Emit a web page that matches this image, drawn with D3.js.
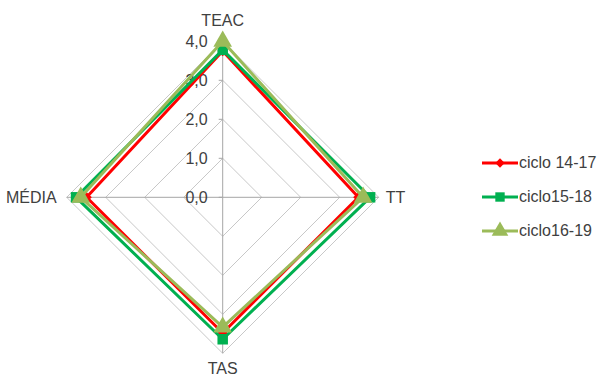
<!DOCTYPE html>
<html>
<head>
<meta charset="utf-8">
<script src="https://cdn.jsdelivr.net/npm/d3@7"></script>
<style>
  html, body { margin: 0; padding: 0; background: #fff; }
  svg { display: block; font-family: "Liberation Sans", Arial, sans-serif; }
</style>
</head>
<body>
<svg id="chart" width="600" height="376"></svg>
<script>
// Radar axes, clockwise from the top
const axes = ["TEAC", "TT", "TAS", "MÉDIA"];
const seriesNames = ["ciclo 14-17", "ciclo15-18", "ciclo16-19"];
const ciclo1417 = [3.75, 3.48, 3.48, 3.49];
const ciclo1518 = [3.78, 3.78, 3.64, 3.76];
const ciclo1619 = [4.0, 3.6, 3.33, 3.64];
const tickValues = [0, 1, 2, 3, 4];
const tickLabels = ["0,0", "1,0", "2,0", "3,0", "4,0"];

const seriesValues = [ciclo1417, ciclo1518, ciclo1619];
const colors = ["#ff0000", "#00b050", "#9bbb59"];
const markers = [d3.symbolDiamond2, d3.symbolSquare, d3.symbolTriangle];
const markerSizes = [70, 110, 150];

const svg = d3.select("#chart");
const cx = 222.7, cy = 197.3, R = 156;

const r = d3.scaleLinear().domain([0, 4]).range([0, R]);
const angle = d3.scalePoint().domain(axes).range([0, 270]);
const pt = (axis, v) => {
  const a = (angle(axis) - 90) * Math.PI / 180;
  return [cx + r(v) * Math.cos(a), cy + r(v) * Math.sin(a)];
};

const g = svg.append("g");

// grid polygons
tickValues.filter(t => t > 0).forEach(t => {
  g.append("path")
    .attr("d", d3.line()(axes.map(a => pt(a, t))) + "Z")
    .attr("fill", "none")
    .attr("stroke", "#c8c8c8")
    .attr("stroke-width", 1);
});

// spokes
axes.forEach(a => {
  const [x, y] = pt(a, 4);
  g.append("line")
    .attr("x1", cx).attr("y1", cy).attr("x2", x).attr("y2", y)
    .attr("stroke", "#a6a6a6").attr("stroke-width", 1);
});

// small tick marks on the vertical axis
tickValues.forEach(t => {
  const [x, y] = pt("TEAC", t);
  g.append("line")
    .attr("x1", x - 4).attr("x2", x).attr("y1", y).attr("y2", y)
    .attr("stroke", "#a6a6a6");
});

// tick labels
tickValues.forEach((t, i) => {
  const [x, y] = pt("TEAC", t);
  g.append("text")
    .attr("x", x - 15).attr("y", y + 1)
    .attr("text-anchor", "end")
    .attr("dominant-baseline", "middle")
    .attr("font-size", 16).attr("fill", "#404040")
    .text(tickLabels[i]);
});

// axis labels
const labelPos = {
  "TEAC": { dx: 0, dy: -20, anchor: "middle" },
  "TT": { dx: 7, dy: 1, anchor: "start" },
  "TAS": { dx: 0, dy: 9, anchor: "middle" },
  "MÉDIA": { dx: -10, dy: 1, anchor: "end" }
};
axes.forEach(a => {
  const [x, y] = pt(a, 4);
  const p = labelPos[a];
  g.append("text")
    .attr("x", x + p.dx).attr("y", y + p.dy)
    .attr("text-anchor", p.anchor)
    .attr("dominant-baseline", a === "TAS" ? "hanging" : "middle")
    .attr("font-size", 16).attr("fill", "#404040")
    .text(a);
});

// series
seriesValues.forEach((vals, i) => {
  const pts = axes.map((a, j) => pt(a, vals[j]));
  g.append("path")
    .attr("d", d3.line()(pts) + "Z")
    .attr("fill", "none")
    .attr("stroke", colors[i])
    .attr("stroke-width", 3)
    .attr("stroke-linejoin", "round");
  pts.forEach(([x, y]) => {
    g.append("path")
      .attr("d", d3.symbol().type(markers[i]).size(markerSizes[i])())
      .attr("transform", `translate(${x},${y})`)
      .attr("fill", colors[i]);
  });
});

// legend
const leg = svg.append("g");
const legY = d3.scalePoint().domain(seriesNames).range([163, 231]);
seriesNames.forEach((name, i) => {
  const y = legY(name);
  leg.append("line")
    .attr("x1", 482).attr("x2", 518).attr("y1", y).attr("y2", y)
    .attr("stroke", colors[i]).attr("stroke-width", 3);
  leg.append("path")
    .attr("d", d3.symbol().type(markers[i]).size(markerSizes[i] * 0.8)())
    .attr("transform", `translate(500,${y})`)
    .attr("fill", colors[i]);
  leg.append("text")
    .attr("x", 519).attr("y", y + 1)
    .attr("dominant-baseline", "middle")
    .attr("font-size", 16).attr("fill", "#404040")
    .text(name);
});
</script>
</body>
</html>
